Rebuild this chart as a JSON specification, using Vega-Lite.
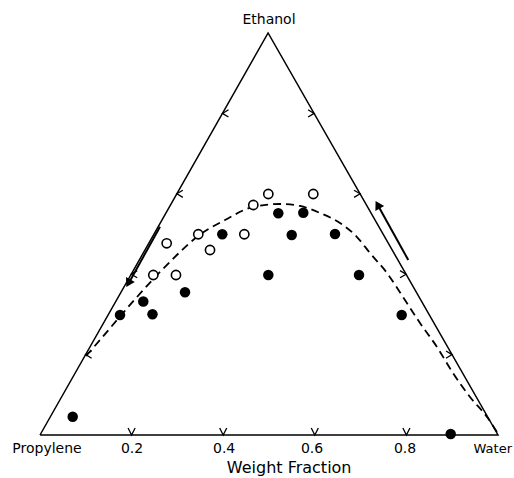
{
  "$schema": "https://vega.github.io/schema/vega-lite/v6.json",
  "width": 458,
  "height": 402,
  "autosize": {"type": "none"},
  "padding": {"left": 40, "top": 33, "right": 16, "bottom": 43},
  "background": "white",
  "config": {"view": {"stroke": null}},
  "datasets": {
    "triangle": [
      {"x": 0, "y": 0, "o": 0},
      {"x": 1, "y": 0, "o": 1},
      {"x": 0.498, "y": 1, "o": 2},
      {"x": 0, "y": 0, "o": 3}
    ],
    "curve": [
      {"x": 0.1004, "y": 0.1965}, {"x": 0.131, "y": 0.2363}, {"x": 0.1681, "y": 0.2861},
      {"x": 0.2118, "y": 0.3433}, {"x": 0.262, "y": 0.4055}, {"x": 0.3057, "y": 0.4552},
      {"x": 0.345, "y": 0.495}, {"x": 0.4039, "y": 0.5348}, {"x": 0.4651, "y": 0.5672},
      {"x": 0.524, "y": 0.5746}, {"x": 0.5677, "y": 0.5697}, {"x": 0.6114, "y": 0.5522},
      {"x": 0.655, "y": 0.5274}, {"x": 0.6921, "y": 0.4925}, {"x": 0.7205, "y": 0.4527},
      {"x": 0.7576, "y": 0.403}, {"x": 0.7926, "y": 0.3433}, {"x": 0.8297, "y": 0.2786},
      {"x": 0.8668, "y": 0.2189}, {"x": 0.9017, "y": 0.1542}, {"x": 0.9389, "y": 0.0945},
      {"x": 0.976, "y": 0.0448}, {"x": 0.9978, "y": 0.0075}
    ],
    "filled": [
      {"x": 0.0714, "y": 0.0455}, {"x": 0.1747, "y": 0.2985}, {"x": 0.2255, "y": 0.3321},
      {"x": 0.2456, "y": 0.3005}, {"x": 0.3166, "y": 0.355}, {"x": 0.398, "y": 0.4993},
      {"x": 0.4985, "y": 0.398}, {"x": 0.5203, "y": 0.5515}, {"x": 0.5496, "y": 0.4975},
      {"x": 0.5749, "y": 0.553}, {"x": 0.6441, "y": 0.5}, {"x": 0.6965, "y": 0.398},
      {"x": 0.7897, "y": 0.2985}, {"x": 0.8967, "y": 0.0025}
    ],
    "open": [
      {"x": 0.4985, "y": 0.5995}, {"x": 0.5967, "y": 0.5995}, {"x": 0.4657, "y": 0.5721},
      {"x": 0.3456, "y": 0.4993}, {"x": 0.4461, "y": 0.4993}, {"x": 0.2766, "y": 0.4769},
      {"x": 0.3712, "y": 0.4602}, {"x": 0.2474, "y": 0.398}, {"x": 0.2969, "y": 0.398}
    ],
    "tickBottom": [{"x": 0.2, "y": 0}, {"x": 0.4, "y": 0}, {"x": 0.6, "y": 0}, {"x": 0.8, "y": 0}],
    "tickLeft": [{"x": 0.0996, "y": 0.2}, {"x": 0.1992, "y": 0.4}, {"x": 0.2988, "y": 0.6}, {"x": 0.3984, "y": 0.8}],
    "tickRight": [{"x": 0.8996, "y": 0.2}, {"x": 0.7992, "y": 0.4}, {"x": 0.6988, "y": 0.6}, {"x": 0.5984, "y": 0.8}],
    "arrowLines": [
      {"x": 0.262, "y": 0.5182, "a": "left", "o": 0}, {"x": 0.1924, "y": 0.375, "a": "left", "o": 1},
      {"x": 0.8041, "y": 0.4353, "a": "right", "o": 0}, {"x": 0.7356, "y": 0.576, "a": "right", "o": 1}
    ],
    "arrowHeads": [
      {"x": 0.1944, "y": 0.3805, "angle": 208.4},
      {"x": 0.7388, "y": 0.5696, "angle": 331}
    ],
    "labels": [
      {"x": 0.0153, "y": -0.0348, "label": "Propylene"},
      {"x": 0.2009, "y": -0.0348, "label": "0.2"},
      {"x": 0.402, "y": -0.0348, "label": "0.4"},
      {"x": 0.594, "y": -0.0348, "label": "0.6"},
      {"x": 0.797, "y": -0.0348, "label": "0.8"},
      {"x": 0.5, "y": 1.032, "label": "Ethanol"}
    ],
    "rightLabel": [{"x": 1.0306, "y": -0.0348, "label": "Water"}],
    "title": [{"x": 0.544, "y": -0.082, "label": "Weight Fraction"}]
  },
  "layer": [
    {
      "data": {"name": "triangle"},
      "mark": {"type": "line", "color": "black", "strokeWidth": 1.5},
      "encoding": {
        "x": {"field": "x", "type": "quantitative", "scale": {"domain": [0, 1]}, "axis": null},
        "y": {"field": "y", "type": "quantitative", "scale": {"domain": [0, 1]}, "axis": null},
        "order": {"field": "o"}
      }
    },
    {
      "data": {"name": "curve"},
      "mark": {"type": "line", "color": "black", "strokeWidth": 1.8, "strokeDash": [8, 5], "interpolate": "monotone"},
      "encoding": {
        "x": {"field": "x", "type": "quantitative"},
        "y": {"field": "y", "type": "quantitative"}
      }
    },
    {
      "data": {"name": "arrowLines"},
      "mark": {"type": "line", "color": "black", "strokeWidth": 2},
      "encoding": {
        "x": {"field": "x", "type": "quantitative"},
        "y": {"field": "y", "type": "quantitative"},
        "detail": {"field": "a"},
        "order": {"field": "o"}
      }
    },
    {
      "data": {"name": "arrowHeads"},
      "mark": {"type": "point", "shape": "triangle", "filled": true, "color": "black", "size": 100, "opacity": 1},
      "encoding": {
        "x": {"field": "x", "type": "quantitative"},
        "y": {"field": "y", "type": "quantitative"},
        "angle": {"field": "angle", "type": "quantitative", "scale": null}
      }
    },
    {
      "data": {"name": "tickBottom"},
      "mark": {"type": "point", "shape": "M -0.5 -1 L 0 0 L 0.5 -1", "filled": false, "stroke": "black", "strokeWidth": 1.3, "size": 200, "opacity": 1},
      "encoding": {
        "x": {"field": "x", "type": "quantitative"},
        "y": {"field": "y", "type": "quantitative"}
      }
    },
    {
      "data": {"name": "tickLeft"},
      "mark": {"type": "point", "shape": "M 1 -0.6 L 0 0 L 1 0.6", "filled": false, "stroke": "black", "strokeWidth": 1.3, "size": 144, "opacity": 1},
      "encoding": {
        "x": {"field": "x", "type": "quantitative"},
        "y": {"field": "y", "type": "quantitative"}
      }
    },
    {
      "data": {"name": "tickRight"},
      "mark": {"type": "point", "shape": "M -1 -0.6 L 0 0 L -1 0.6", "filled": false, "stroke": "black", "strokeWidth": 1.3, "size": 144, "opacity": 1},
      "encoding": {
        "x": {"field": "x", "type": "quantitative"},
        "y": {"field": "y", "type": "quantitative"}
      }
    },
    {
      "data": {"name": "filled"},
      "mark": {"type": "point", "shape": "circle", "filled": true, "color": "black", "size": 110, "opacity": 1},
      "encoding": {
        "x": {"field": "x", "type": "quantitative"},
        "y": {"field": "y", "type": "quantitative"}
      }
    },
    {
      "data": {"name": "open"},
      "mark": {"type": "point", "shape": "circle", "filled": true, "fill": "white", "stroke": "black", "strokeWidth": 1.6, "size": 85, "opacity": 1},
      "encoding": {
        "x": {"field": "x", "type": "quantitative"},
        "y": {"field": "y", "type": "quantitative"}
      }
    },
    {
      "data": {"name": "labels"},
      "mark": {"type": "text", "font": "DejaVu Sans", "fontSize": 14, "color": "black", "baseline": "middle", "align": "center"},
      "encoding": {
        "x": {"field": "x", "type": "quantitative"},
        "y": {"field": "y", "type": "quantitative"},
        "text": {"field": "label"}
      }
    },
    {
      "data": {"name": "rightLabel"},
      "mark": {"type": "text", "font": "DejaVu Sans", "fontSize": 13, "color": "black", "baseline": "middle", "align": "right"},
      "encoding": {
        "x": {"field": "x", "type": "quantitative"},
        "y": {"field": "y", "type": "quantitative"},
        "text": {"field": "label"}
      }
    },
    {
      "data": {"name": "title"},
      "mark": {"type": "text", "font": "DejaVu Sans", "fontSize": 16, "color": "black", "baseline": "middle", "align": "center"},
      "encoding": {
        "x": {"field": "x", "type": "quantitative"},
        "y": {"field": "y", "type": "quantitative"},
        "text": {"field": "label"}
      }
    }
  ]
}
